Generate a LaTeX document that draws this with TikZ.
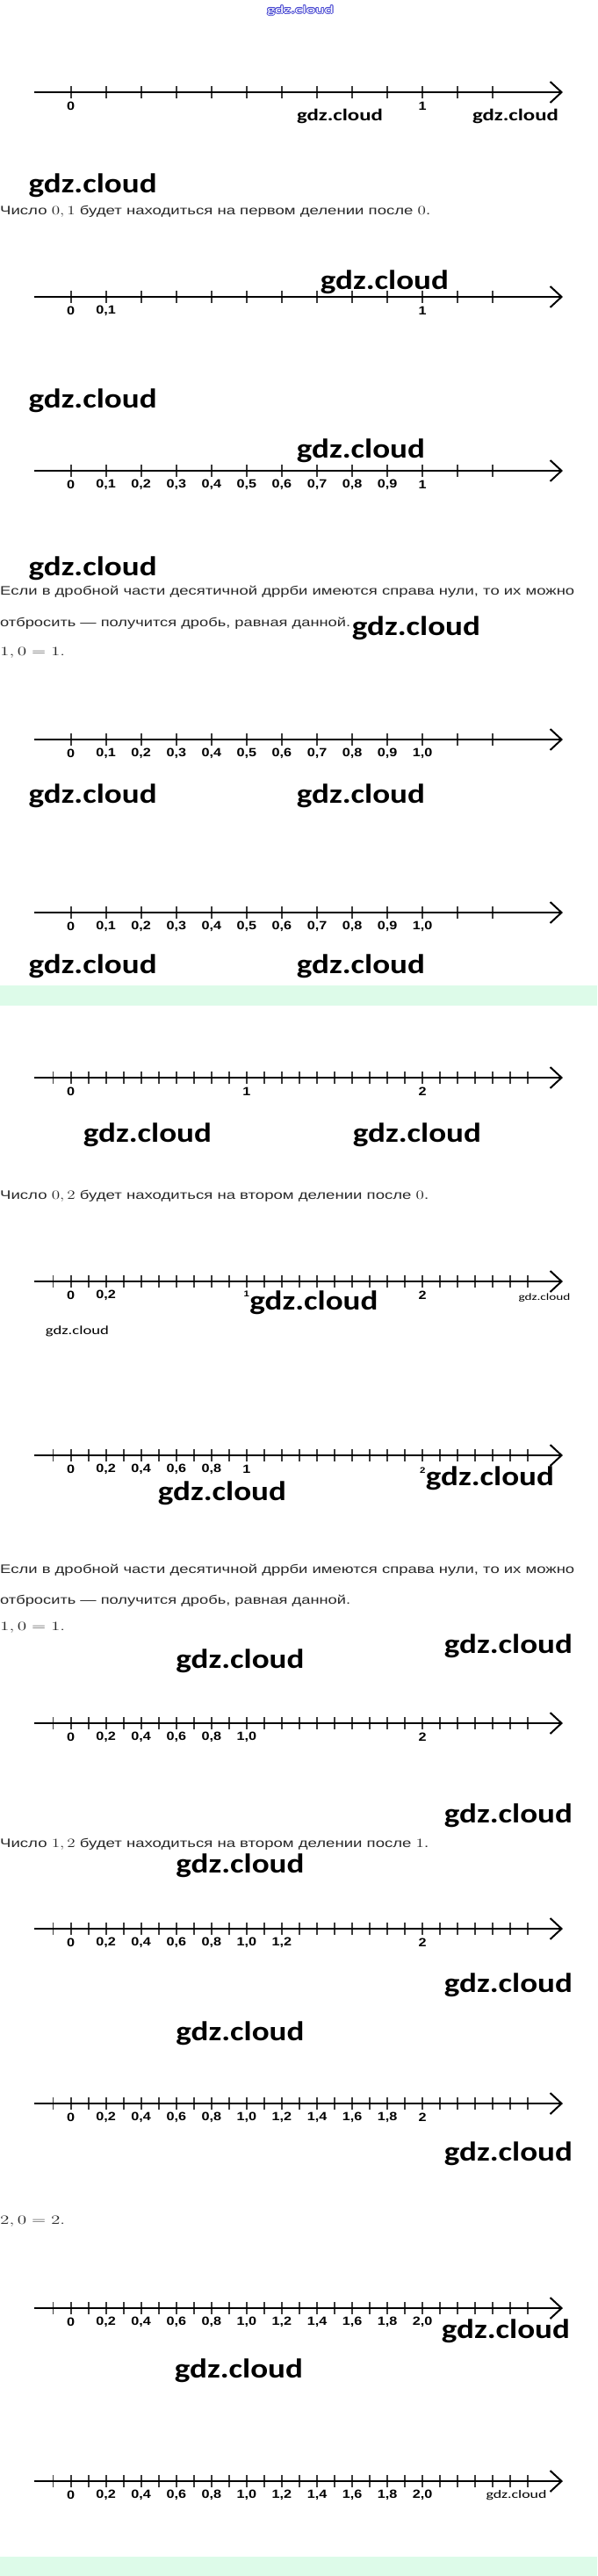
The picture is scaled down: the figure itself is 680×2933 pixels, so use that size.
\documentclass[tikz,border=0pt]{standalone}
\usepackage{graphicx}
\usepackage{fontspec}
\setmainfont{Liberation Sans}
\newfontfamily\wmfont{Carlito}
\usetikzlibrary{arrows.meta}
\definecolor{mint}{RGB}{221,251,233}
\definecolor{txtgray}{RGB}{40,40,40}
\definecolor{tickgray}{RGB}{60,60,60}
\definecolor{wmblue}{RGB}{70,70,210}
\newcommand\hs[1]{\scalebox{1.2}[1]{#1}}
\newcommand\fitw[2]{\resizebox{#1pt}{\height}{#2}}
\tikzset{
  axisline/.style={line width=2.4pt,-{Straight Barb[length=13pt,width=24pt,line width=2pt]}},
  tickline/.style={line width=1.8pt,tickgray},
  lbl/.style={font=\bfseries\fontsize{13.5}{14}\selectfont,inner sep=0pt},
  lbls/.style={font=\bfseries\fontsize{9.5}{10}\selectfont,inner sep=0pt},
  wm/.style={font=\wmfont\bfseries\fontsize{#1}{#1}\selectfont,inner sep=0pt},
  wmthin/.style={font=\wmfont\fontsize{#1}{#1}\selectfont,inner sep=0pt},
  para/.style={font=\fontsize{14}{16}\selectfont,text=txtgray,anchor=west,inner sep=0pt},
}
\newcommand\lineA[2]{%
  \coordinate (#2s) at (39,#1);
  \coordinate (#2e) at (641,#1);
  \foreach \k in {0,...,12}{\draw[tickline] (80.6+40.06*\k,#1-7) -- (80.6+40.06*\k,#1+7);}
  \draw[axisline] (#2s) -- (#2e);}
\newcommand\lineB[2]{%
  \coordinate (#2s) at (39,#1);
  \coordinate (#2e) at (641,#1);
  \foreach \k in {-1,...,26}{\draw[tickline] (80.6+20.03*\k,#1-7) -- (80.6+20.03*\k,#1+7);}
  \draw[axisline] (#2s) -- (#2e);}
\newcommand\labsA[3]{\foreach \k/\lab in {#3}{\node[lbl] (#2l\k) at (80.6+40.06*\k,#1+16) {\hs{\lab}};}}
\newcommand\labsB[3]{\foreach \k/\lab in {#3}{\node[lbl] (#2l\k) at (80.6+20.03*\k,#1+16) {\hs{\lab}};}}
\begin{document}
\begin{tikzpicture}[x=1pt,y=-1pt]
\useasboundingbox (0,0) rectangle (680,2933);
\fill[white] (0,0) rectangle (680,2933);
\fill[mint] (0,1122) rectangle (680,1145);
\fill[mint] (0,2911) rectangle (680,2933);

% top blue watermark (outlined)
\foreach \a in {0,45,...,315}{\node[wmthin=12.5,text=wmblue] (wt\a) at ([shift={(\a:0.9)}]342,12) {\fitw{76}{gdz.cloud}};}
\node[wmthin=12.5,text=white] (wtop) at (342,12) {\fitw{76}{gdz.cloud}};

% section A
\lineA{105}{A}
\labsA{105}{A}{0/0,10/1}
\node[wm=19] (wA1) at (387,132) {\fitw{98}{gdz.cloud}};
\node[wm=19] (wA2) at (587,132) {\fitw{98}{gdz.cloud}};

% section B
\node[wm=31] (wB1) at (105.7,211) {\fitw{146}{gdz.cloud}};
\node[para] (tB) at (0,241) {\fitw{490}{Число $0,1$ будет находиться на первом делении после $0$.}};
\lineA{338}{B}
\labsA{338}{B}{0/0,1/{0,1},10/1}
\node[wm=31] (wB2) at (438,321) {\fitw{146}{gdz.cloud}};

% section C
\node[wm=31] (wC1) at (105.7,456) {\fitw{146}{gdz.cloud}};
\node[wm=31] (wC2) at (411,513) {\fitw{146}{gdz.cloud}};
\lineA{536}{C}
\labsA{536}{C}{0/0,1/{0,1},2/{0,2},3/{0,3},4/{0,4},5/{0,5},6/{0,6},7/{0,7},8/{0,8},9/{0,9},10/1}

% section D
\node[wm=31] (wD1) at (105.7,647) {\fitw{146}{gdz.cloud}};
\node[para] (tD1) at (0,674) {\fitw{654}{Если в дробной части десятичной дррби имеются справа нули, то их можно}};
\node[para] (tD2) at (0,710) {\fitw{399}{отбросить — получится дробь, равная данной.}};
\node[para] (tD3) at (0,743) {\fitw{74}{$1,0=1.$}};
\node[wm=31] (wD2) at (474,715) {\fitw{146}{gdz.cloud}};

% section E
\lineA{842}{E}
\labsA{842}{E}{0/0,1/{0,1},2/{0,2},3/{0,3},4/{0,4},5/{0,5},6/{0,6},7/{0,7},8/{0,8},9/{0,9},10/{1,0}}
\node[wm=31] (wE1) at (105.7,906) {\fitw{146}{gdz.cloud}};
\node[wm=31] (wE2) at (411,906) {\fitw{146}{gdz.cloud}};

% section F
\lineA{1039}{F}
\labsA{1039}{F}{0/0,1/{0,1},2/{0,2},3/{0,3},4/{0,4},5/{0,5},6/{0,6},7/{0,7},8/{0,8},9/{0,9},10/{1,0}}
\node[wm=31] (wF1) at (105.7,1100) {\fitw{146}{gdz.cloud}};
\node[wm=31] (wF2) at (411,1100) {\fitw{146}{gdz.cloud}};

% section G
\lineB{1227}{G}
\labsB{1227}{G}{0/0,10/1,20/2}
\node[wm=31] (wG1) at (168,1292) {\fitw{146}{gdz.cloud}};
\node[wm=31] (wG2) at (475,1292) {\fitw{146}{gdz.cloud}};
\node[para] (tG) at (0,1362) {\fitw{488}{Число $0,2$ будет находиться на втором делении после $0$.}};

% section H
\lineB{1459}{H}
\labsB{1459}{H}{0/0,2/{0,2},20/2}
\node[lbls] (Hl10) at (280.9,1473) {\hs{1}};
\node[wm=31] (wH1) at (357.5,1483) {\fitw{146}{gdz.cloud}};
\node[wmthin=11] (wH2) at (620,1478) {\fitw{59}{gdz.cloud}};
\node[wmthin=14] (wH3) at (88,1516) {\fitw{72}{gdz.cloud}};

% section I
\lineB{1657}{I}
\labsB{1657}{I}{0/0,2/{0,2},4/{0,4},6/{0,6},8/{0,8},10/1}
\node[lbls] (Il20) at (481.2,1674) {\hs{2}};
\node[wm=31] (wI1) at (253,1700) {\fitw{146}{gdz.cloud}};
\node[wm=31] (wI2) at (558,1683) {\fitw{146}{gdz.cloud}};

% section J
\node[para] (tJ1) at (0,1788) {\fitw{654}{Если в дробной части десятичной дррби имеются справа нули, то их можно}};
\node[para] (tJ2) at (0,1823) {\fitw{399}{отбросить — получится дробь, равная данной.}};
\node[para] (tJ3) at (0,1853) {\fitw{74}{$1,0=1.$}};
\node[wm=31] (wJ1) at (579,1874) {\fitw{146}{gdz.cloud}};
\node[wm=31] (wJ2) at (273.5,1891) {\fitw{146}{gdz.cloud}};
\lineB{1962}{J}
\labsB{1962}{J}{0/0,2/{0,2},4/{0,4},6/{0,6},8/{0,8},10/{1,0},20/2}

% section K
\node[wm=31] (wK1) at (579,2067) {\fitw{146}{gdz.cloud}};
\node[para] (tK) at (0,2100) {\fitw{488}{Число $1,2$ будет находиться на втором делении после $1$.}};
\node[wm=31] (wK2) at (273.5,2124) {\fitw{146}{gdz.cloud}};
\lineB{2196}{K}
\labsB{2196}{K}{0/0,2/{0,2},4/{0,4},6/{0,6},8/{0,8},10/{1,0},12/{1,2},20/2}

% section L
\node[wm=31] (wL1) at (579,2260) {\fitw{146}{gdz.cloud}};
\node[wm=31] (wL2) at (273.5,2315) {\fitw{146}{gdz.cloud}};
\lineB{2395}{L}
\labsB{2395}{L}{0/0,2/{0,2},4/{0,4},6/{0,6},8/{0,8},10/{1,0},12/{1,2},14/{1,4},16/{1,6},18/{1,8},20/2}

% section M / N
\node[wm=31] (wM1) at (579,2452) {\fitw{146}{gdz.cloud}};
\node[para] (tM) at (0,2529) {\fitw{74}{$2,0=2.$}};
\lineB{2628}{M}
\labsB{2628}{M}{0/0,2/{0,2},4/{0,4},6/{0,6},8/{0,8},10/{1,0},12/{1,2},14/{1,4},16/{1,6},18/{1,8},20/{2,0}}
\node[wm=31] (wM2) at (576,2654) {\fitw{146}{gdz.cloud}};
\node[wm=31] (wM3) at (272,2699) {\fitw{146}{gdz.cloud}};
\lineB{2825}{N}
\labsB{2825}{N}{0/0,2/{0,2},4/{0,4},6/{0,6},8/{0,8},10/{1,0},12/{1,2},14/{1,4},16/{1,6},18/{1,8},20/{2,0}}
\node[wmthin=13] (wN1) at (588,2841) {\fitw{69}{gdz.cloud}};
\end{tikzpicture}
\end{document}
